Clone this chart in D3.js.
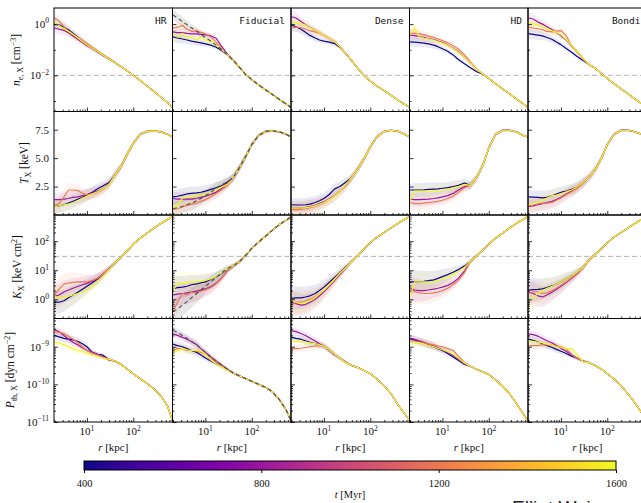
<!DOCTYPE html>
<html>
<head>
<meta charset="utf-8">
<script src="https://cdn.jsdelivr.net/npm/d3@7"></script>
<style>
  body { margin: 0; background: #fff; }
  svg { display: block; }
</style>
</head>
<body>
<svg id="fig" width="641" height="503" font-family="Liberation Serif, DejaVu Serif, serif"></svg>
<script>
// ---------------------------------------------------------------------------
// Radial grid [kpc] shared by every profile
const radii = [2, 2.5, 3.2, 4, 5, 6.5, 8, 10, 13, 17, 22, 30,
               40, 55, 75, 100, 140, 200, 280, 400, 550, 700];
const innerCount = 12;                       // radii up to 30 kpc
const runs = ["HR", "Fiducial", "Dense", "HD", "Bondi"];
const snapshotTimes = [400, 800, 1200, 1600]; // Myr
const colorbarTicks = [400, 800, 1200, 1600];

// Electron density, log10 [cm^-3]; one array per snapshot (inner radii, may run longer)
const neProfiles = {
  HR: [
    [0.0, -0.03, -0.12, -0.22, -0.36, -0.52, -0.65, -0.78, -0.93, -1.07, -1.2, -1.35],
    [-0.15, -0.2, -0.24, -0.34, -0.46, -0.6, -0.72, -0.84, -0.95, -1.08, -1.22, -1.36],
    [0.25, 0.12, -0.1, -0.27, -0.4, -0.53, -0.64, -0.76, -0.9, -1.04, -1.19, -1.35],
    [0.05, -0.05, -0.18, -0.28, -0.4, -0.55, -0.68, -0.8, -0.94, -1.06, -1.2, -1.36]],
  Fiducial: [
    [-0.5, -0.54, -0.58, -0.62, -0.66, -0.7, -0.73, -0.77, -0.82, -0.9, -1.02, -1.2],
    [-0.3, -0.33, -0.33, -0.36, -0.38, -0.38, -0.4, -0.42, -0.45, -0.55, -0.85, -1.18],
    [-0.15, -0.12, -0.05, -0.2, -0.28, -0.26, -0.32, -0.38, -0.5, -0.7, -0.95, -1.2],
    [-0.42, -0.5, -0.35, -0.55, -0.5, -0.6, -0.52, -0.62, -0.68, -0.8, -0.98, -1.2]],
  Dense: [
    [-0.04, -0.1, -0.2, -0.32, -0.44, -0.54, -0.62, -0.66, -0.7, -0.76, -0.9, -1.16],
    [0.29, 0.24, 0.1, -0.02, -0.12, -0.24, -0.34, -0.44, -0.55, -0.68, -0.88, -1.16],
    [-0.15, -0.12, -0.14, -0.2, -0.26, -0.3, -0.35, -0.44, -0.55, -0.68, -0.88, -1.16],
    [0.09, 0.06, 0.02, -0.04, -0.13, -0.24, -0.34, -0.44, -0.55, -0.68, -0.88, -1.16]],
  HD: [
    [-0.69, -0.7, -0.72, -0.74, -0.77, -0.82, -0.88, -0.96, -1.06, -1.2, -1.38, -1.55, -1.7, -1.86],
    [-0.43, -0.45, -0.48, -0.52, -0.56, -0.6, -0.66, -0.72, -0.82, -0.94, -1.08, -1.3, -1.52, -1.78],
    [-0.35, -0.36, -0.38, -0.42, -0.47, -0.52, -0.58, -0.64, -0.73, -0.84, -0.97, -1.2, -1.47, -1.76],
    [-0.4, -0.15, -0.5, -0.55, -0.58, -0.62, -0.68, -0.74, -0.83, -0.95, -1.1, -1.3, -1.52, -1.78]],
  Bondi: [
    [-0.37, -0.4, -0.43, -0.46, -0.52, -0.6, -0.7, -0.8, -0.95, -1.1, -1.25, -1.42],
    [0.24, 0.2, 0.08, 0.0, -0.1, -0.22, -0.33, -0.45, -0.62, -0.85, -1.05, -1.35],
    [-0.12, -0.15, -0.18, -0.22, -0.28, -0.3, -0.27, -0.25, -0.45, -0.85, -1.08, -1.35],
    [0.04, 0.02, -0.02, -0.1, -0.18, -0.26, -0.32, -0.42, -0.6, -0.82, -1.05, -1.35]]
};
// Converged outer profile of each run, radii 40..700 kpc
const neTails = {
  HR:       [-1.5, -1.66, -1.83, -2.0, -2.2, -2.42, -2.63, -2.86, -3.07, -3.25],
  Fiducial: [-1.42, -1.7, -1.98, -2.17, -2.37, -2.57, -2.75, -2.95, -3.12, -3.25],
  Dense:    [-1.43, -1.75, -2.03, -2.22, -2.42, -2.6, -2.78, -2.97, -3.13, -3.25],
  HD:       [-1.5, -1.78, -1.95, -2.12, -2.33, -2.53, -2.72, -2.93, -3.11, -3.25],
  Bondi:    [-1.57, -1.72, -1.93, -2.12, -2.33, -2.53, -2.72, -2.93, -3.11, -3.25]
};
const neInitial = [0.36, 0.24, 0.1, -0.02, -0.14, -0.28, -0.4, -0.52, -0.66, -0.82, -0.98, -1.2];
const neSpread = [0.2, 0.2, 0.18, 0.16, 0.15, 0.14, 0.12, 0.1, 0.09, 0.08, 0.07, 0.06,
                  0.05, 0.04, 0.03, 0.03, 0.02, 0.02, 0.02, 0.02, 0.02, 0.02];
const neReference = 1e-2;

// X-ray temperature [keV]
const tProfiles = {
  HR: [
    [0.75, 0.8, 0.9, 1.05, 1.2, 1.4, 1.55, 1.75, 2.0, 2.3, 2.55, 2.85],
    [1.35, 1.35, 1.4, 1.45, 1.55, 1.6, 1.7, 1.8, 1.95, 2.1, 2.3, 2.7],
    [0.85, 1.0, 1.6, 2.2, 2.2, 2.15, 1.9, 1.75, 1.85, 2.0, 2.25, 2.7],
    [0.75, 0.8, 0.9, 0.95, 1.1, 1.3, 1.5, 1.65, 1.85, 2.05, 2.3, 2.65]],
  Fiducial: [
    [1.6, 1.65, 1.75, 1.85, 1.9, 1.95, 2.0, 2.1, 2.25, 2.4, 2.55, 2.9],
    [1.45, 1.4, 1.4, 1.4, 1.4, 1.45, 1.55, 1.65, 1.8, 2.0, 2.3, 2.8],
    [0.5, 0.55, 0.7, 0.85, 0.95, 1.05, 1.2, 1.35, 1.6, 1.9, 2.2, 2.6],
    [0.7, 0.8, 1.5, 1.55, 1.6, 1.7, 1.75, 1.85, 2.0, 2.2, 2.45, 2.7]],
  Dense: [
    [0.9, 0.88, 0.88, 0.9, 0.95, 1.1, 1.25, 1.45, 1.8, 2.3, 2.5, 2.9],
    [0.6, 0.6, 0.62, 0.68, 0.75, 0.85, 1.0, 1.15, 1.4, 1.7, 2.05, 2.6],
    [0.5, 0.45, 0.5, 0.55, 0.65, 0.75, 0.9, 1.05, 1.35, 1.7, 2.1, 2.6],
    [0.6, 0.6, 0.62, 0.65, 0.7, 0.8, 0.95, 1.1, 1.35, 1.65, 2.05, 2.7]],
  HD: [
    [2.2, 2.2, 2.2, 2.22, 2.25, 2.28, 2.3, 2.35, 2.4, 2.5, 2.6, 2.8],
    [1.4, 1.35, 1.35, 1.38, 1.4, 1.45, 1.5, 1.6, 1.7, 1.9, 2.2, 2.5],
    [1.1, 1.0, 1.0, 1.05, 1.1, 1.15, 1.2, 1.3, 1.45, 1.65, 2.0, 2.4],
    [1.2, 2.1, 2.1, 2.05, 2.05, 2.1, 2.1, 2.2, 2.25, 2.4, 2.5, 2.7]],
  Bondi: [
    [1.6, 1.58, 1.55, 1.5, 1.55, 1.7, 1.85, 2.0, 2.1, 2.25, 2.45, 2.85],
    [0.75, 0.8, 0.9, 1.0, 1.1, 1.2, 1.35, 1.55, 1.85, 2.1, 2.4, 2.8],
    [0.85, 0.9, 1.0, 1.05, 1.05, 1.1, 1.3, 1.5, 1.8, 2.05, 2.3, 2.8],
    [0.9, 0.95, 1.1, 1.3, 1.5, 1.7, 1.75, 1.85, 2.05, 2.2, 2.45, 2.85]]
};
const tTails = {
  HR:       [3.5, 4.3, 5.4, 6.3, 7.1, 7.35, 7.4, 7.3, 7.1, 6.85],
  Fiducial: [3.3, 4.2, 5.2, 6.2, 7.0, 7.35, 7.4, 7.3, 7.1, 6.85],
  Dense:    [3.3, 4.1, 5.0, 6.0, 6.9, 7.35, 7.45, 7.35, 7.1, 6.85],
  HD:       [2.6, 3.3, 4.4, 5.9, 7.1, 7.45, 7.45, 7.3, 7.0, 6.85],
  Bondi:    [3.3, 4.0, 5.0, 6.2, 7.1, 7.45, 7.45, 7.3, 7.1, 6.9]
};
const tInitial = [0.55, 0.65, 0.75, 0.9, 1.05, 1.25, 1.45, 1.7, 2.0, 2.35, 2.65, 2.9];
const tSpread = [0.6, 0.6, 0.6, 0.6, 0.6, 0.55, 0.55, 0.5, 0.5, 0.5, 0.45, 0.4,
                 0.35, 0.3, 0.25, 0.2, 0.15, 0.12, 0.1, 0.1, 0.08, 0.08];

// Entropy, log10 [keV cm^2]
const kProfiles = {
  HR: [
    [-0.1, -0.1, -0.05, 0.05, 0.15, 0.25, 0.35, 0.45, 0.57, 0.7, 0.85, 1.05],
    [0.1, 0.15, 0.25, 0.32, 0.38, 0.45, 0.5, 0.55, 0.62, 0.72, 0.87, 1.05],
    [0.15, 0.35, 0.52, 0.56, 0.58, 0.6, 0.6, 0.6, 0.65, 0.73, 0.87, 1.05],
    [0.1, 0.05, 0.05, 0.1, 0.15, 0.2, 0.25, 0.32, 0.45, 0.6, 0.8, 1.02]],
  Fiducial: [
    [0.37, 0.4, 0.42, 0.45, 0.5, 0.53, 0.57, 0.6, 0.68, 0.77, 0.88, 1.03],
    [0.15, 0.18, 0.2, 0.22, 0.25, 0.28, 0.32, 0.36, 0.43, 0.55, 0.72, 0.98],
    [-0.4, -0.1, 0.2, 0.15, 0.25, 0.22, 0.28, 0.33, 0.4, 0.53, 0.7, 0.98],
    [0.3, 0.55, 0.55, 0.58, 0.6, 0.6, 0.62, 0.65, 0.7, 0.78, 0.9, 1.04]],
  Dense: [
    [0.03, 0.05, 0.05, 0.08, 0.12, 0.2, 0.3, 0.42, 0.58, 0.75, 0.92, 1.12],
    [-0.1, -0.15, -0.2, -0.18, -0.1, 0.0, 0.12, 0.27, 0.45, 0.65, 0.85, 1.08],
    [-0.2, -0.1, -0.1, -0.05, 0.0, 0.08, 0.18, 0.3, 0.48, 0.67, 0.88, 1.1],
    [-0.05, -0.1, -0.15, -0.12, -0.05, 0.05, 0.18, 0.32, 0.5, 0.7, 0.9, 1.1]],
  HD: [
    [0.6, 0.6, 0.61, 0.62, 0.64, 0.67, 0.72, 0.78, 0.85, 0.93, 1.02, 1.15],
    [0.4, 0.32, 0.3, 0.3, 0.32, 0.35, 0.38, 0.42, 0.48, 0.58, 0.72, 0.98],
    [0.35, 0.27, 0.22, 0.2, 0.2, 0.22, 0.25, 0.3, 0.38, 0.5, 0.65, 0.92],
    [0.1, 0.6, 0.6, 0.6, 0.58, 0.6, 0.64, 0.7, 0.76, 0.85, 0.96, 1.1]],
  Bondi: [
    [0.32, 0.33, 0.34, 0.36, 0.4, 0.46, 0.52, 0.6, 0.7, 0.8, 0.92, 1.1],
    [0.25, 0.2, 0.12, 0.08, 0.15, 0.25, 0.35, 0.45, 0.58, 0.72, 0.88, 1.08],
    [0.2, 0.26, 0.26, 0.2, 0.22, 0.3, 0.38, 0.48, 0.6, 0.74, 0.9, 1.08],
    [-0.05, 0.05, 0.2, 0.3, 0.38, 0.45, 0.52, 0.6, 0.7, 0.8, 0.93, 1.1]]
};
const kTails = {
  HR:       [1.25, 1.45, 1.68, 1.9, 2.1, 2.28, 2.45, 2.62, 2.75, 2.85],
  Fiducial: [1.15, 1.3, 1.52, 1.75, 1.97, 2.18, 2.38, 2.58, 2.72, 2.84],
  Dense:    [1.3, 1.52, 1.75, 1.95, 2.14, 2.3, 2.45, 2.62, 2.75, 2.85],
  HD:       [1.3, 1.5, 1.7, 1.9, 2.1, 2.28, 2.45, 2.62, 2.75, 2.85],
  Bondi:    [1.35, 1.55, 1.75, 1.95, 2.14, 2.3, 2.45, 2.62, 2.75, 2.85]
};
const kInitial = [-0.43, -0.33, -0.2, -0.08, 0.05, 0.2, 0.32, 0.45, 0.6, 0.75, 0.9, 1.07];
const kSpread = [0.4, 0.4, 0.38, 0.36, 0.34, 0.3, 0.28, 0.25, 0.22, 0.18, 0.14, 0.1,
                 0.08, 0.06, 0.05, 0.04, 0.03, 0.03, 0.02, 0.02, 0.02, 0.02];
const kReference = 30;

// Thermal pressure, log10 [dyn cm^-2]
const pProfiles = {
  HR: [
    [-8.7, -8.74, -8.78, -8.8, -8.82, -8.86, -8.92, -9.0, -9.15, -9.2, -9.22, -9.35],
    [-8.55, -8.6, -8.7, -8.8, -8.88, -8.96, -9.03, -9.1, -9.15, -9.2, -9.26, -9.33],
    [-8.6, -8.62, -8.65, -8.72, -8.8, -8.9, -9.0, -9.1, -9.17, -9.22, -9.28, -9.35],
    [-8.88, -8.9, -8.95, -9.0, -9.05, -9.1, -9.13, -9.17, -9.22, -9.26, -9.3, -9.33]],
  Fiducial: [
    [-8.93, -8.97, -9.0, -9.05, -9.1, -9.15, -9.22, -9.3, -9.38, -9.45, -9.52, -9.62],
    [-8.66, -8.7, -8.75, -8.8, -8.86, -8.95, -9.05, -9.15, -9.27, -9.38, -9.48, -9.6],
    [-9.1, -9.05, -9.05, -9.1, -9.1, -9.12, -9.15, -9.2, -9.3, -9.4, -9.5, -9.62],
    [-9.15, -9.1, -9.05, -9.08, -9.1, -9.1, -9.12, -9.2, -9.35, -9.45, -9.53, -9.63]],
  Dense: [
    [-8.75, -8.78, -8.8, -8.84, -8.88, -8.92, -8.95, -8.98, -9.08, -9.2, -9.3, -9.42],
    [-8.57, -8.6, -8.65, -8.7, -8.77, -8.85, -8.92, -8.98, -9.1, -9.22, -9.3, -9.42],
    [-9.06, -9.05, -9.04, -9.02, -9.0, -8.98, -8.97, -8.98, -9.08, -9.2, -9.3, -9.43],
    [-8.85, -8.85, -8.86, -8.88, -8.9, -8.92, -8.95, -8.98, -9.08, -9.2, -9.3, -9.43]],
  HD: [
    [-8.8, -8.82, -8.86, -8.9, -8.95, -9.0, -9.05, -9.1, -9.18, -9.27, -9.36, -9.47],
    [-8.78, -8.8, -8.84, -8.88, -8.93, -8.98, -9.03, -9.08, -9.15, -9.23, -9.33, -9.45],
    [-8.85, -8.86, -8.88, -8.9, -8.92, -8.95, -8.98, -9.0, -9.05, -9.1, -9.25, -9.42],
    [-8.88, -8.88, -8.9, -8.93, -8.96, -9.0, -9.04, -9.08, -9.13, -9.2, -9.3, -9.44]],
  Bondi: [
    [-8.8, -8.83, -8.87, -8.92, -8.97, -9.02, -9.07, -9.12, -9.18, -9.25, -9.3, -9.38],
    [-8.66, -8.68, -8.72, -8.78, -8.84, -8.9, -8.97, -9.04, -9.12, -9.22, -9.3, -9.38],
    [-8.97, -8.97, -8.97, -8.95, -8.95, -8.96, -8.98, -9.0, -9.06, -9.2, -9.3, -9.38],
    [-8.85, -8.86, -8.88, -8.9, -8.93, -8.96, -9.0, -9.02, -9.05, -9.05, -9.2, -9.4]]
};
const pTails = {
  HR:       [-9.38, -9.47, -9.6, -9.72, -9.85, -9.98, -10.12, -10.32, -10.58, -10.97],
  Fiducial: [-9.7, -9.78, -9.85, -9.92, -10.0, -10.08, -10.2, -10.42, -10.68, -10.97],
  Dense:    [-9.5, -9.56, -9.64, -9.72, -9.86, -10.04, -10.25, -10.55, -10.78, -10.97],
  HD:       [-9.52, -9.6, -9.67, -9.74, -9.88, -10.05, -10.25, -10.52, -10.78, -10.97],
  Bondi:    [-9.42, -9.5, -9.6, -9.72, -9.86, -10.04, -10.25, -10.5, -10.76, -10.97]
};
const pInitial = [-8.57, -8.62, -8.7, -8.78, -8.86, -8.95, -9.05, -9.15, -9.27, -9.38, -9.48, -9.6];
const pSpread = [0.1, 0.1, 0.1, 0.1, 0.1, 0.1, 0.09, 0.08, 0.07, 0.06, 0.05, 0.04,
                 0.03, 0.03, 0.02, 0.02, 0.02, 0.02, 0.02, 0.02, 0.02, 0.02];

// ---------------------------------------------------------------------------
const quantities = [
  { log: true,  lo: -3.41, hi: 0.63, profiles: neProfiles, tails: neTails, initial: neInitial,
    spread: neSpread, reference: neReference, majors: [-2, 0], minors: [-3, -1], minorSubs: false },
  { log: false, lo: 0, hi: 9.1, profiles: tProfiles, tails: tTails, initial: tInitial,
    spread: tSpread, reference: null, majors: [2.5, 5.0, 7.5], minors: [] },
  { log: true,  lo: -0.66, hi: 2.9, profiles: kProfiles, tails: kTails, initial: kInitial,
    spread: kSpread, reference: kReference, majors: [0, 1, 2], minorSubs: true },
  { log: true,  lo: -11, hi: -8.25, profiles: pProfiles, tails: pTails, initial: pInitial,
    spread: pSpread, reference: null, majors: [-11, -10, -9], minorSubs: true }
];

const serif = "Liberation Serif, DejaVu Serif, serif";
const svg = d3.select("#fig");
const left0 = 54, top0 = 8, pw = 118.5, ph = 103.5;
const color = t => d3.interpolatePlasma((t - 400) / 1200);

const x = d3.scaleLog().domain([1.95, 700]).range([0, pw]);
const xMajors = [10, 100];
const xMinors = [];
[1, 10, 100].forEach(d => { for (let m = 2; m <= 9; m++) { const v = m * d; if (v >= 1.95 && v <= 700) xMinors.push(v); } });

function fullProfile(inner, tail) {
  return inner.concat(tail.slice(inner.length - innerCount));
}

function supLabel(textSel, base, exp, size) {
  textSel.append("tspan").text(base);
  textSel.append("tspan").attr("dy", -4.5).attr("font-size", size).text(exp < 0 ? "\u2212" + (-exp) : exp);
}

function newText(parent) {
  return parent.append("text").attr("font-family", serif).attr("fill", "#111");
}

quantities.forEach((q, ri) => {
  const y = q.log
    ? d3.scaleLog().domain([10 ** q.lo, 10 ** q.hi]).range([ph, 0])
    : d3.scaleLinear().domain([q.lo, q.hi]).range([ph, 0]);
  const toVal = v => q.log ? 10 ** v : v;
  const band = (vals, i, s) => q.log
    ? [10 ** (vals[i] - s), 10 ** (vals[i] + s)]
    : [Math.max(q.lo, vals[i] - s), vals[i] + s];

  let yMinors = [];
  if (q.log && q.minorSubs) {
    for (let d = Math.floor(q.lo); d <= Math.ceil(q.hi); d++)
      for (let m = 2; m <= 9; m++) {
        const v = m * 10 ** d;
        if (Math.log10(v) > q.lo && Math.log10(v) < q.hi) yMinors.push(v);
      }
  } else if (q.log) {
    yMinors = q.minors.map(e => 10 ** e);
  }

  runs.forEach((run, ci) => {
    const g = svg.append("g").attr("transform", `translate(${left0 + ci * pw},${top0 + ri * ph})`);
    const clipId = `clip-${ri}-${ci}`;
    g.append("clipPath").attr("id", clipId).append("rect").attr("width", pw).attr("height", ph);
    const plot = g.append("g").attr("clip-path", `url(#${clipId})`);

    if (q.reference !== null) {
      plot.append("line").attr("x1", 0).attr("x2", pw)
        .attr("y1", y(q.reference)).attr("y2", y(q.reference))
        .attr("stroke", "#b3b3b3").attr("stroke-width", 1).attr("stroke-dasharray", "5,3");
    }

    const series = q.profiles[run].map((inner, k) => ({
      t: snapshotTimes[k],
      vals: fullProfile(inner, q.tails[run])
    }));
    const initialVals = run === "Fiducial" ? fullProfile(q.initial, q.tails[run]) : null;

    const area = (vals, s) => d3.area()
      .x((d, i) => x(radii[i]))
      .y0((d, i) => y(band(vals, i, s[i])[0]))
      .y1((d, i) => y(band(vals, i, s[i])[1]));
    const line = d3.line().x((d, i) => x(radii[i])).y(d => y(toVal(d)));

    if (initialVals) {
      plot.append("path").attr("d", area(initialVals, q.spread)(initialVals))
        .attr("fill", "#808080").attr("fill-opacity", 0.18);
    }
    series.forEach(s => {
      plot.append("path").attr("d", area(s.vals, q.spread)(s.vals))
        .attr("fill", color(s.t)).attr("fill-opacity", 0.09);
    });
    series.forEach(s => {
      plot.append("path").attr("d", line(s.vals))
        .attr("fill", "none").attr("stroke", color(s.t)).attr("stroke-width", 1.2)
        .attr("stroke-linejoin", "round");
    });
    if (initialVals) {
      plot.append("path").attr("d", line(initialVals))
        .attr("fill", "none").attr("stroke", "#4d4d4d").attr("stroke-width", 1.1)
        .attr("stroke-dasharray", "4,3");
    }

    // ticks pointing into the panel
    const ax = g.append("g").attr("transform", `translate(0,${ph})`);
    ax.call(d3.axisBottom(x).tickValues(xMajors).tickSize(-4).tickFormat(""));
    ax.call(g2 => g2.select(".domain").remove());
    const axm = g.append("g").attr("transform", `translate(0,${ph})`);
    axm.call(d3.axisBottom(x).tickValues(xMinors.filter(v => v !== 10 && v !== 100)).tickSize(-2).tickFormat(""));
    axm.call(g2 => g2.select(".domain").remove());

    const yMaj = q.log ? q.majors.map(e => 10 ** e) : q.majors;
    const ay = g.append("g").call(d3.axisLeft(y).tickValues(yMaj).tickSize(-4).tickFormat(""));
    ay.select(".domain").remove();
    if (yMinors.length) {
      const aym = g.append("g").call(d3.axisLeft(y).tickValues(yMinors).tickSize(-2).tickFormat(""));
      aym.select(".domain").remove();
    }
    g.selectAll(".tick line").attr("stroke", "#000").attr("stroke-width", 0.8);

    g.append("rect").attr("width", pw).attr("height", ph)
      .attr("fill", "none").attr("stroke", "#000").attr("stroke-width", 1);

    if (ri === 0) {
      g.append("text").attr("x", pw - 6).attr("y", 16).attr("text-anchor", "end")
        .attr("font-family", "DejaVu Sans Mono, Liberation Mono, monospace")
        .attr("font-size", 9.5).attr("fill", "#111").text(run);
    }

    if (ci === 0) {
      q.majors.forEach(m => {
        const t = newText(g).attr("x", -5).attr("y", y(q.log ? 10 ** m : m))
          .attr("dy", "0.35em").attr("text-anchor", "end").attr("font-size", 11);
        if (q.log) supLabel(t, "10", m, 7.5); else t.text(m.toFixed(1));
      });
    }

    if (ri === quantities.length - 1) {
      xMajors.forEach(v => {
        const t = newText(g).attr("x", x(v)).attr("y", ph + 13)
          .attr("text-anchor", "middle").attr("font-size", 11);
        supLabel(t, "10", Math.round(Math.log10(v)), 7.5);
      });
      const lab = newText(g).attr("x", pw / 2).attr("y", ph + 29)
        .attr("text-anchor", "middle").attr("font-size", 11);
      lab.append("tspan").attr("font-style", "italic").text("r");
      lab.append("tspan").text(" [kpc]");
    }
  });
});

// Row axis titles
function rowTitle(cx, cy, build) {
  const t = newText(svg).attr("transform", `translate(${cx},${cy}) rotate(-90)`)
    .attr("text-anchor", "middle").attr("font-size", 11.5);
  build(t);
}
rowTitle(20, 60, t => {
  t.append("tspan").attr("font-style", "italic").text("n");
  t.append("tspan").attr("font-size", 8).attr("dy", 3).text("e, X");
  t.append("tspan").attr("dy", -3).text(" [cm");
  t.append("tspan").attr("font-size", 8).attr("dy", -4.5).text("\u22123");
  t.append("tspan").attr("dy", 4.5).text("]");
});
rowTitle(28, 163, t => {
  t.append("tspan").attr("font-style", "italic").text("T");
  t.append("tspan").attr("font-size", 8).attr("dy", 3).text("X");
  t.append("tspan").attr("dy", -3).text(" [keV]");
});
rowTitle(21, 267, t => {
  t.append("tspan").attr("font-style", "italic").text("K");
  t.append("tspan").attr("font-size", 8).attr("dy", 3).text("X");
  t.append("tspan").attr("dy", -3).text(" [keV cm");
  t.append("tspan").attr("font-size", 8).attr("dy", -4.5).text("2");
  t.append("tspan").attr("dy", 4.5).text("]");
});
rowTitle(14, 370, t => {
  t.append("tspan").attr("font-style", "italic").text("P");
  t.append("tspan").attr("font-size", 8).attr("dy", 3).text("th, X");
  t.append("tspan").attr("dy", -3).text(" [dyn cm");
  t.append("tspan").attr("font-size", 8).attr("dy", -4.5).text("\u22122");
  t.append("tspan").attr("dy", 4.5).text("]");
});

// Colour bar for snapshot time
const cbX = d3.scaleLinear().domain([400, 1600]).range([84, 616]);
const cbY = 461, cbH = 9;
const grad = svg.append("defs").append("linearGradient").attr("id", "plasma-grad");
d3.range(0, 1.0001, 0.05).forEach(f => {
  grad.append("stop").attr("offset", f).attr("stop-color", d3.interpolatePlasma(f));
});
svg.append("rect").attr("x", cbX(400)).attr("y", cbY).attr("width", cbX(1600) - cbX(400)).attr("height", cbH)
  .attr("fill", "url(#plasma-grad)").attr("stroke", "#000").attr("stroke-width", 1);
const cbAxis = svg.append("g").attr("transform", `translate(0,${cbY + cbH})`)
  .call(d3.axisBottom(cbX).tickValues(colorbarTicks).tickSize(3).tickFormat(d3.format("d")));
cbAxis.select(".domain").remove();
cbAxis.attr("font-family", serif);
cbAxis.selectAll("text").attr("font-size", 10.5).attr("dy", "1.05em").attr("fill", "#111");
cbAxis.selectAll(".tick line").attr("stroke", "#000");
const cbLab = newText(svg).attr("x", 350).attr("y", 498).attr("text-anchor", "middle").attr("font-size", 10.5);
cbLab.append("tspan").attr("font-style", "italic").text("t");
cbLab.append("tspan").text(" [Myr]");

// Author credit at the lower right edge
svg.append("text").attr("x", 512).attr("y", 514)
  .attr("font-family", "Liberation Sans, Arial, sans-serif").attr("font-size", 19)
  .attr("fill", "#222").text("Elliot Weiss");
</script>
</body>
</html>
